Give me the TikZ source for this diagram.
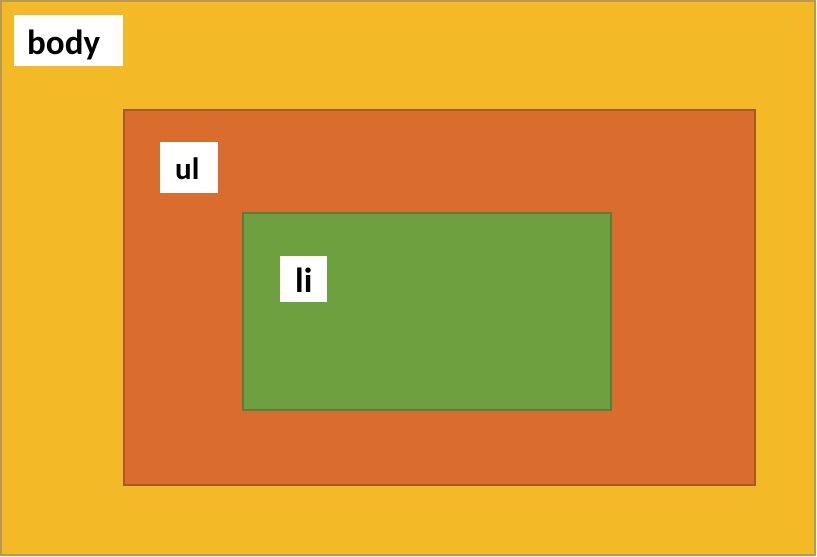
\documentclass[tikz,border=0pt]{standalone}
\usepackage{fontspec}
\setmainfont{Carlito}
\definecolor{bodyc}{HTML}{F3B926}
\definecolor{bodyb}{HTML}{B89A4A}
\definecolor{ulc}{HTML}{DA6C2E}
\definecolor{ulb}{HTML}{A65A2A}
\definecolor{lic}{HTML}{6FA040}
\definecolor{lib}{HTML}{57803A}
\begin{document}
\begin{tikzpicture}[x=1pt,y=-1pt,
  box/.style={line width=1.5pt},
  tagbox/.style={fill=white,draw=none},
  tag/.style={inner sep=0pt,anchor=base west,text=black}]
\useasboundingbox (0,0) rectangle (817,557);
\draw[box,fill=bodyc,draw=bodyb] (1,1) rectangle (815,555);
\draw[box,fill=ulc,draw=ulb] (124,110) rectangle (755,485);
\draw[box,fill=lic,draw=lib] (243,213) rectangle (611,410);
\fill[tagbox] (14,15) rectangle (123,66);
\fill[tagbox] (160,142) rectangle (218,193);
\fill[tagbox] (280,256) rectangle (327,302);
\node[tag,font=\bfseries\fontsize{35}{40}\selectfont] (body) at (27,54) {body};
\node[tag,font=\bfseries\fontsize{31}{36}\selectfont] (ul) at (175,179) {ul};
\node[tag,font=\bfseries\fontsize{35}{40}\selectfont] (li) at (295,292) {li};
\end{tikzpicture}
\end{document}
